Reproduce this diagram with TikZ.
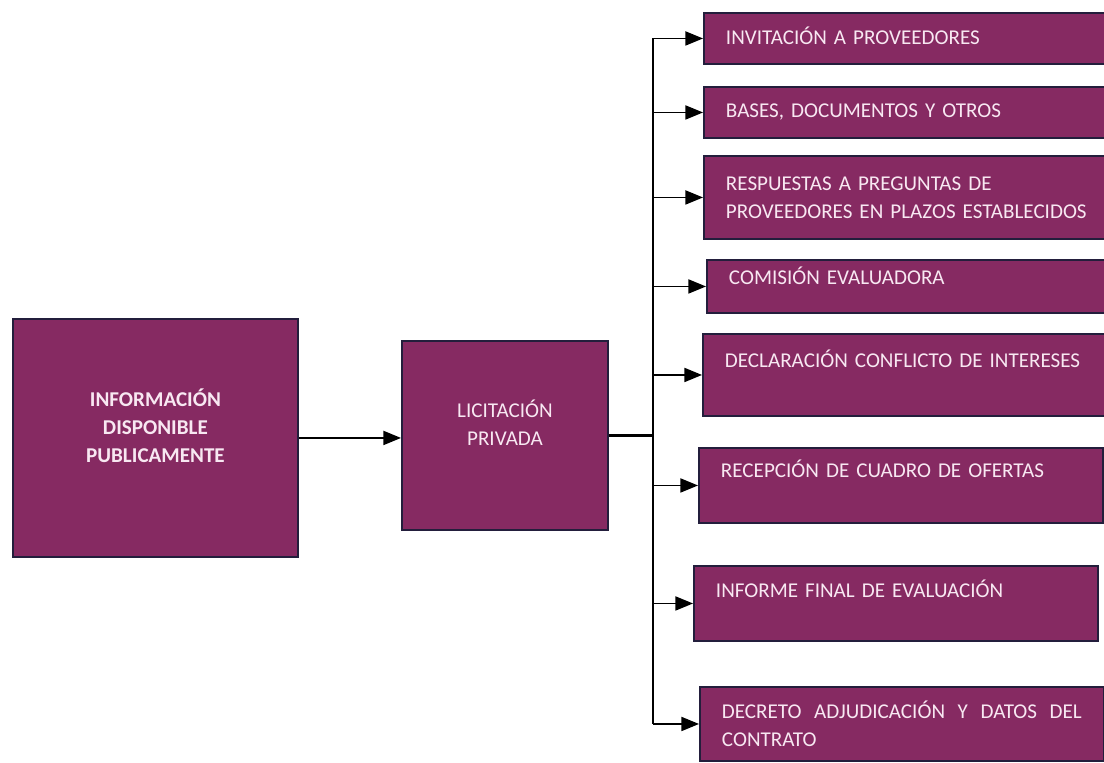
\documentclass[tikz,border=0pt]{standalone}
\usepackage{fontspec}
\setmainfont{Carlito}
\usetikzlibrary{arrows.meta}
\usetikzlibrary{positioning}
\definecolor{morado}{RGB}{134,42,98}
\definecolor{borde}{RGB}{35,30,60}
\definecolor{letra}{RGB}{248,232,242}

\begin{document}
\begin{tikzpicture}[x=0.02cm, y=-0.02cm, >={Triangle[length=10pt,width=8pt]}, line width=0.9pt]
\tikzstyle{caja} = [draw=borde, line width=1.1pt, fill=morado, text=letra, anchor=north west, font=\fontsize{12}{16}\selectfont]
\tikzstyle{paso} = [caja, text width=7.2cm, inner xsep=0.44cm, align=left]
\tikzset{sube/.style={execute at end node={\par\vspace*{#1}}}}

\useasboundingbox (0,0) rectangle (1104,762);

\node[caja, minimum width=5.7cm, minimum height=4.76cm, text width=4.6cm, align=center, font=\fontsize{12}{16}\selectfont\bfseries, sube=0.5cm] (info) at (12,318) {INFORMACIÓN\\DISPONIBLE\\PUBLICAMENTE};
\node[caja, minimum width=4.12cm, minimum height=3.78cm, text width=3.4cm, align=center, sube=0.5cm] (lic) at (401,340) {LICITACIÓN\\PRIVADA};

\node[paso, minimum height=1.02cm, sube=0.12cm] (b1) at (703,12) {INVITACIÓN A PROVEEDORES};
\node[paso, minimum height=1.02cm] (b2) at (703,86) {BASES, DOCUMENTOS Y OTROS};
\node[paso, minimum height=1.66cm, text width=7.6cm] (b3) at (703,155) {RESPUESTAS A PREGUNTAS DE\\PROVEEDORES EN PLAZOS ESTABLECIDOS};
\node[paso, minimum height=1.06cm, sube=0.44cm] (b4) at (706,259) {COMISIÓN EVALUADORA};
\node[paso, minimum height=1.64cm, sube=0.66cm] (b5) at (702,333) {DECLARACIÓN CONFLICTO DE INTERESES};
\node[paso, minimum height=1.5cm, sube=0.68cm] (b6) at (698,447) {RECEPCIÓN DE CUADRO DE OFERTAS};
\node[paso, minimum height=1.5cm, sube=0.6cm] (b7) at (693,565) {INFORME FINAL DE EVALUACIÓN};
\node[paso, minimum height=1.48cm, align=justify] (b8) at (699,686) {DECRETO ADJUDICACIÓN Y DATOS DEL\linebreak CONTRATO};

\coordinate (eje) at (653,434);

\draw[->] (info.east) -- (info.east -| lic.west);
\draw[line width=1.3pt] (lic.east) -- (lic.east -| eje);
\draw (eje |- b1.west) -- (eje |- b8.west);
\foreach \n in {1,...,8}
  \draw[->] (eje |- b\n.west) -- (b\n.west);

\end{tikzpicture}
\end{document}
